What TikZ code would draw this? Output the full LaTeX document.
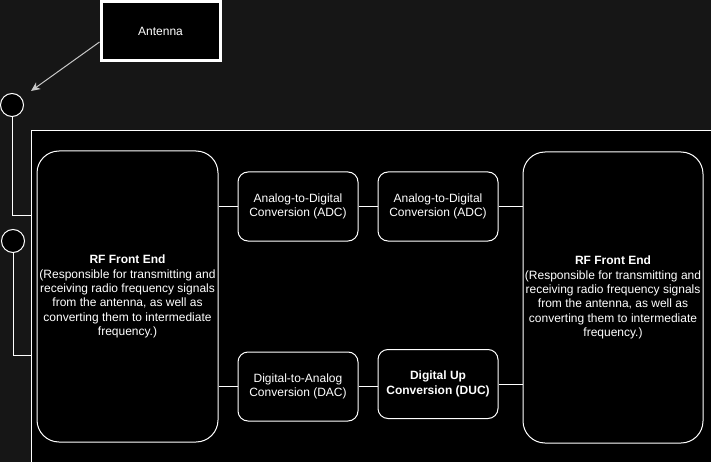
\documentclass[tikz,border=0pt]{standalone}
\usepackage{fontspec}
\setmainfont{Liberation Sans}
\usetikzlibrary{arrows.meta}
\definecolor{bgc}{HTML}{161616}
\definecolor{arrc}{HTML}{C8C8C8}
\begin{document}
\begin{tikzpicture}[x=1pt,y=-1pt,
 every node/.style={font=\fontsize{12}{14.4}\selectfont, text=white},
 rfbox/.style={draw=white, fill=black, rounded corners=22pt, line width=1pt, minimum width=181pt, minimum height=291pt, align=center, inner sep=0pt},
 procbox/.style={draw=white, fill=black, rounded corners=10pt, line width=1pt, minimum width=120pt, minimum height=69pt, align=center, inner sep=0pt},
 port/.style={circle, draw=white, fill=black, line width=1pt, minimum size=23pt, inner sep=0pt},
 antbox/.style={draw=white, fill=black, line width=3pt, minimum width=119pt, minimum height=59pt, inner sep=0pt},
 wire/.style={draw=white, line width=1pt},
 antarrow/.style={draw=arrc, line width=1pt, -{Stealth[length=9pt,width=8pt,inset=2.5pt]}}]
\useasboundingbox (0,0) rectangle (711,462);
\fill[bgc] (0,0) rectangle (711,462);
\begin{scope}
\clip (0,0) rectangle (711,462);
\draw[white, fill=black, line width=1pt] (31,131) rectangle (730,480);
\end{scope}
% antenna
\node[antbox] (ant) at (160.5,31.5) {Antenna};
\coordinate (tip) at (31,91);
\draw[antarrow] ([yshift=-10.5pt]ant.west) -- (tip);
% ports
\node[port] (c1) at (12,105) {};
\node[port] (c2) at (13,241) {};
\coordinate (j1) at (31,216);
\coordinate (j2) at (31,355);
\draw[wire] (c1.south) |- (j1);
\draw[wire] (c2.south) |- (j2);
% RF boxes
\node[rfbox] (rfL) at (127.5,296.5) {\textbf{RF Front End}\\(Responsible for transmitting and\\receiving radio frequency signals\\from the antenna, as well as\\converting them to intermediate\\frequency.)};
\node[rfbox, minimum width=180pt] (rfR) at (613,297.5) {\textbf{RF Front End}\\(Responsible for transmitting and\\receiving radio frequency signals\\from the antenna, as well as\\converting them to intermediate\\frequency.)};
% process boxes
\node[procbox] (adc1) at (298,206.5) {Analog-to-Digital\\Conversion (ADC)};
\node[procbox] (adc2) at (438,206.5) {Analog-to-Digital\\Conversion (ADC)};
\node[procbox] (dac) at (298,386.5) {Digital-to-Analog\\Conversion (DAC)};
\node[procbox, font=\fontsize{12}{14.4}\selectfont\bfseries] (duc) at (438,384) {Digital Up\\Conversion (DUC)};
% connectors
\draw[wire] (rfL.east |- adc1) -- (adc1.west);
\draw[wire] (adc1) -- (adc2);
\draw[wire] (adc2.east) -- (rfR.west |- adc2);
\draw[wire] (rfL.east |- dac) -- (dac.west);
\draw[wire] (dac.east) -- (duc.west |- dac);
\draw[wire] (duc.east) -- (rfR.west |- duc);
\end{tikzpicture}
\end{document}
